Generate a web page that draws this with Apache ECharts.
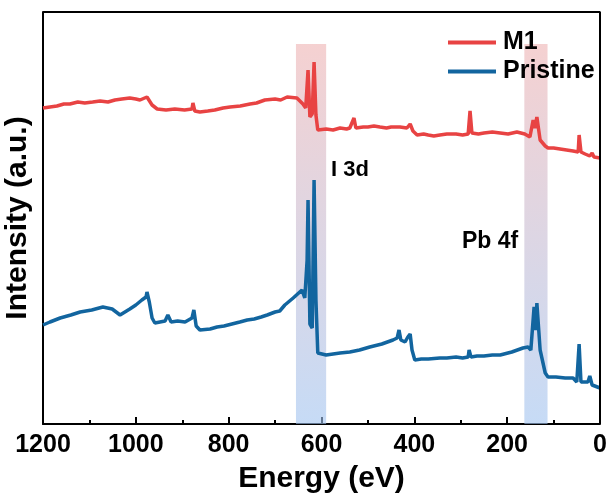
<!DOCTYPE html>
<html>
<head>
<meta charset="utf-8">
<script src="https://cdn.jsdelivr.net/npm/echarts@6/dist/echarts.min.js"></script>
<style>
html,body{margin:0;padding:0;background:#fff;}
#chart{width:609px;height:497px;}
</style>
</head>
<body>
<div id="chart"></div>
<script>
// Binding energy (eV) and intensity (a.u.) for each series
var m1Energy = [1200,1185,1170,1155,1142,1125,1110,1093,1077,1060,1045,1030,1013,1000,991,976,965,954,935,916,895,879,877,873,862,845,830,812,797,775,754,740,722,700,688,674,653,640,634,629,625,620,616,612,608,590,575,560,546,539,530,526,510,500,487,474,460,450,431,416,409,403,394,380,370,358,345,330,310,296,284,280,276,262,250,232,215,198,179,162,151,144,140,136,129,118,112,100,86,72,58,47,45,41,32,22,17,13,0];
var m1Intensity = [316,317,318,320,320,322,321,322,323,322,324,325,326,325,324,327,319,315,314,315,314,315,321,313,312,313,314,316,317,318,320,321,324,325,324,327,326,320,316,354,307,310,362,309,294,295,294,296,295,296,306,296,297,297,298,297,296,297,297,296,300,293,289,290,289,288,289,290,290,289,290,313,291,290,291,292,291,290,292,290,287,304,296,307,284,278,276,276,275,274,273,272,289,272,270,268,271,267,266];

var pristineEnergy = [1200,1185,1163,1140,1120,1095,1071,1051,1034,1013,1000,987,978,976,971,965,959,937,931,924,910,894,879,875,870,862,840,825,810,793,776,760,745,730,717,700,690,679,661,642,636,631,629,625,620,616,612,608,590,575,560,539,518,496,470,446,437,433,429,420,414,409,405,399,385,370,345,330,310,296,284,282,278,265,250,232,215,190,166,155,149,142,138,136,129,118,112,95,75,58,50,47,45,41,26,22,17,0];
var pristineIntensity = [99,102,106,109,112,114,117,115,109,115,119,124,127,132,122,106,101,103,109,102,103,102,106,114,98,94,95,97,98,100,102,104,105,107,109,112,113,119,126,134,126,164,224,100,96,244,124,71,69,70,71,72,74,77,80,84,86,94,84,82,87,90,74,64,65,65,66,66,67,66,67,74,67,68,68,69,69,72,76,77,74,117,94,121,74,51,47,47,46,46,42,42,80,42,42,48,39,36];

var seriesNames = ['M1', 'Pristine'];
var xTicks = [0, 200, 400, 600, 800, 1000, 1200];
var xMin = 0, xMax = 1200, yMin = 0, yMax = 412;
// Highlighted regions (eV): I 3d and Pb 4f
var bandRanges = [[590, 655], [113, 163]];
var bandLabels = ['I 3d', 'Pb 4f'];

function zip(a, b) { return a.map(function (v, i) { return [v, b[i]]; }); }

var chart = echarts.init(document.getElementById('chart'));
var FONT = '"Liberation Sans", Arial, sans-serif';

var bandGrad = new echarts.graphic.LinearGradient(0, 0, 0, 1, [
  { offset: 0, color: 'rgba(238,178,178,0.6)' },
  { offset: 1, color: 'rgba(160,195,240,0.6)' }
]);

function frameLine() { return { show: true, onZero: false, lineStyle: { color: '#000', width: 2 } }; }

chart.setOption({
  animation: false,
  grid: { left: 43, right: 9, top: 12, bottom: 73, outerBoundsMode: 'none', containLabel: false },
  legend: {
    orient: 'vertical', left: 443, top: 25, itemWidth: 48, itemHeight: 4, itemGap: 4,
    textStyle: { fontFamily: FONT, fontWeight: 'bold', fontSize: 25, color: '#000', padding: [0, 0, 0, 2] },
    data: [{ name: seriesNames[0], icon: 'rect' }, { name: seriesNames[1], icon: 'rect' }]
  },
  xAxis: [{
    type: 'value', position: 'bottom', inverse: true, min: xMin, max: xMax, interval: 200,
    name: 'Energy (eV)', nameLocation: 'middle', nameGap: 40,
    nameTextStyle: { fontFamily: FONT, fontWeight: 'bold', fontSize: 30, color: '#000' },
    axisLine: frameLine(),
    axisTick: { inside: true, length: 7, lineStyle: { color: '#000', width: 2 } },
    minorTick: { show: true, splitNumber: 2, length: 4, lineStyle: { color: '#000', width: 2 } },
    splitLine: { show: false },
    axisLabel: { margin: 9, fontFamily: FONT, fontWeight: 'bold', fontSize: 25, color: '#000',
      formatter: function (v) { return xTicks.indexOf(v) >= 0 ? String(v) : ''; } }
  }],
  yAxis: [{
    type: 'value', position: 'left', min: yMin, max: yMax,
    name: 'Intensity (a.u.)', nameLocation: 'middle', nameGap: 10, nameRotate: 90,
    nameTextStyle: { fontFamily: FONT, fontWeight: 'bold', fontSize: 30, color: '#000' },
    axisLine: frameLine(),
    axisTick: { show: false }, axisLabel: { show: false }, splitLine: { show: false }
  }],
  series: [
    { name: seriesNames[0], type: 'line', data: zip(m1Energy, m1Intensity), showSymbol: false,
      color: '#E84343', lineStyle: { width: 3.5, color: '#E84343' }, z: 2 },
    { name: seriesNames[1], type: 'line', data: zip(pristineEnergy, pristineIntensity), showSymbol: false,
      color: '#12659F', lineStyle: { width: 3.5, color: '#12659F' }, z: 2 },
    { name: 'bands', type: 'line', data: [], z: 5, silent: true,
      markArea: { silent: true, itemStyle: { color: bandGrad },
        data: bandRanges.map(function (r) { return [{ xAxis: r[1], yAxis: 380 }, { xAxis: r[0], yAxis: 0 }]; }) } },
    { name: 'frame', type: 'line', z: 6, silent: true, clip: false, showSymbol: false, symbol: 'none',
      data: [[xMax, yMax], [xMin, yMax], [xMin, yMin]],
      color: '#000', lineStyle: { color: '#000', width: 2 } }
  ],
  graphic: [
    { type: 'text', left: 331, top: 159, style: { text: bandLabels[0], font: 'bold 22px ' + FONT, fill: '#000' } },
    { type: 'text', left: 462, top: 230, style: { text: bandLabels[1], font: 'bold 23px ' + FONT, fill: '#000' } }
  ]
});
</script>
</body>
</html>
